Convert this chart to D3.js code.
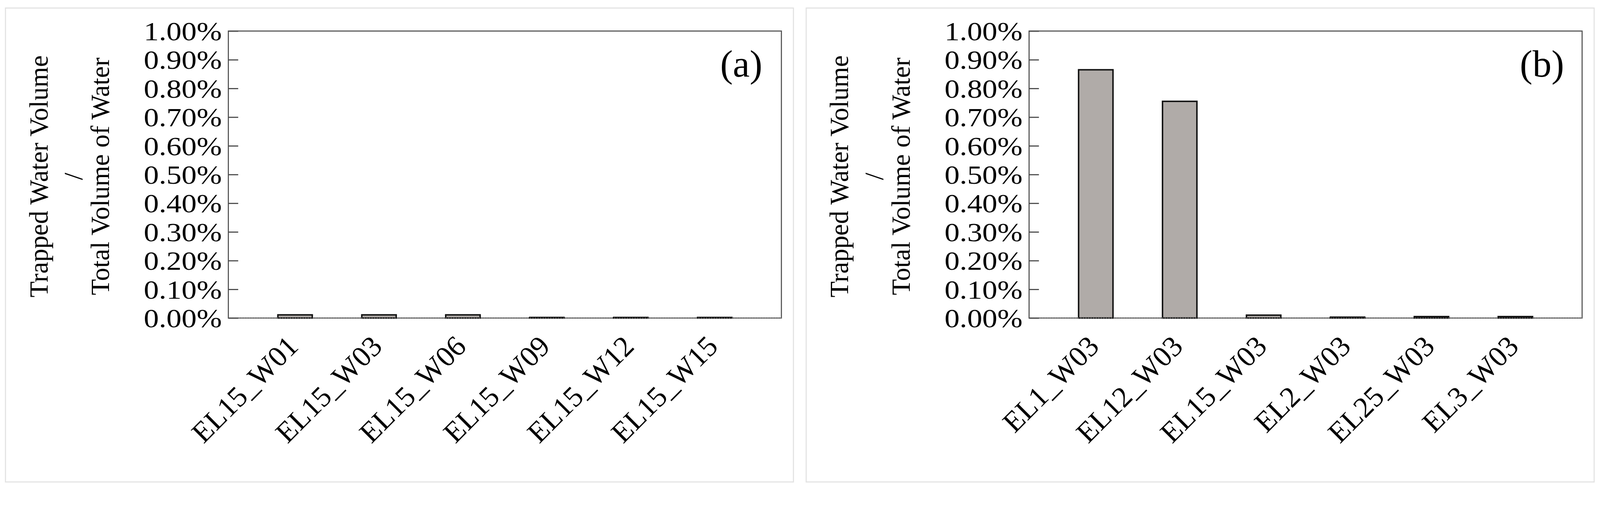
<!DOCTYPE html>
<html><head><meta charset="utf-8">
<script src="https://cdn.jsdelivr.net/npm/d3@7"></script>
<style>html,body{margin:0;background:#fff;overflow:hidden}svg{display:block;width:100vw;height:auto}</style>
</head><body>
<svg id="chart" viewBox="0 0 4386 1330" preserveAspectRatio="xMinYMin meet"></svg>
<script>
const catsA = ["EL15_W01", "EL15_W03", "EL15_W06", "EL15_W09", "EL15_W12", "EL15_W15"];
const valsA = [0.011, 0.011, 0.011, 0.002, 0.002, 0.002];
const catsB = ["EL1_W03", "EL12_W03", "EL15_W03", "EL2_W03", "EL25_W03", "EL3_W03"];
const valsB = [0.865, 0.755, 0.010, 0.003, 0.005, 0.005];
const yTicks = [0, 0.1, 0.2, 0.3, 0.4, 0.5, 0.6, 0.7, 0.8, 0.9, 1.0];

const svg = d3.select("#chart");
const font = "'Liberation Serif', 'Times New Roman', serif";

function panel(ox, cats, vals, tag) {
  const left = 626, right = 2142, top = 85, bottom = 871;
  const g = svg.append("g").attr("transform", `translate(${ox},0)`);

  // light outer frame
  g.append("rect").attr("x", 15).attr("y", 22).attr("width", 2160).attr("height", 1298)
    .attr("fill", "none").attr("stroke", "#e2e2e2").attr("stroke-width", 3);

  const x = d3.scaleBand().domain(cats).range([left, right]).padding(0.59);
  const y = d3.scaleLinear().domain([0, 1]).range([bottom, top]);

  // plot frame
  g.append("rect").attr("x", left).attr("y", top).attr("width", right - left).attr("height", bottom - top)
    .attr("fill", "none").attr("stroke", "#555").attr("stroke-width", 3);

  g.selectAll("rect.bar").data(vals).enter().append("rect").attr("class", "bar")
    .attr("x", (d, i) => x(cats[i]))
    .attr("y", d => y(d))
    .attr("width", x.bandwidth())
    .attr("height", d => bottom - y(d))
    .attr("fill", "#b0aba8").attr("stroke", "#111").attr("stroke-width", 4);

  // dashed zero line
  g.append("line").attr("x1", left).attr("x2", right).attr("y1", y(0)).attr("y2", y(0))
    .attr("stroke", "#777").attr("stroke-width", 2).attr("stroke-dasharray", "4,3");

  const yAxis = d3.axisRight(y).tickValues(yTicks).tickSize(27).tickFormat("");
  const ya = g.append("g").attr("transform", `translate(${left},0)`).call(yAxis);
  ya.select(".domain").remove();
  ya.selectAll("line").attr("stroke", "#444").attr("stroke-width", 3);

  // tall, narrow tick labels like the reference
  g.selectAll("text.yt").data(yTicks).enter().append("text").attr("class", "yt")
    .attr("transform", d => `translate(${left - 18},${y(d)}) scale(1.15,1)`)
    .attr("dy", "0.35em")
    .attr("text-anchor", "end").attr("font-family", font).attr("font-size", 72)
    .text(d => d3.format(".2f")(d) + "%");

  cats.forEach(c => {
    const cx = x(c) + x.bandwidth() / 2 + 13, cy = bottom + 82;
    g.append("text").attr("transform", `translate(${cx},${cy}) rotate(-45)`)
      .attr("text-anchor", "end").attr("font-family", font).attr("font-size", 80).text(c);
  });

  const cyl = 483;
  [["Trapped Water Volume", 105], ["/", 200], ["Total Volume of Water", 274]].forEach(([t, lx]) => {
    g.append("text").attr("transform", `translate(${lx},${cyl}) rotate(-90)`)
      .attr("text-anchor", "middle").attr("dy", "0.35em").attr("font-family", font).attr("font-size", 72).text(t);
  });

  g.append("text").attr("x", 2032).attr("y", 173).attr("dy", "0.35em").attr("text-anchor", "middle")
    .attr("font-family", font).attr("font-size", 104).text(tag);
}

panel(0, catsA, valsA, "(a)");
panel(2195, catsB, valsB, "(b)");
</script>
</body></html>
